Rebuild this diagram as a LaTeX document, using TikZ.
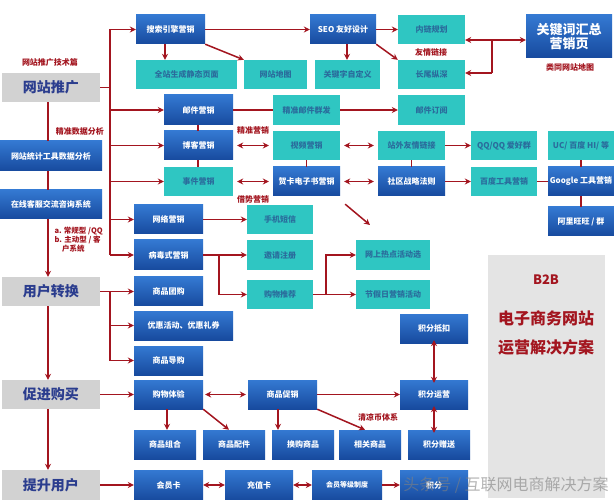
\documentclass[tikz,border=0pt]{standalone}
\usepackage{fontspec}
\setmainfont{Noto Sans CJK SC}
\usetikzlibrary{arrows.meta,calc}
\definecolor{bdark}{HTML}{174A9E}
\definecolor{blite}{HTML}{3479D2}
\definecolor{tl}{HTML}{2FC6C2}
\definecolor{tltext}{HTML}{2A6C9C}
\definecolor{rd}{HTML}{A3151F}
\definecolor{gr}{HTML}{D2D2D2}
\definecolor{grtext}{HTML}{2B3D8E}
\tikzset{
 base/.style={inner sep=0pt,align=center,font=\fontsize{8}{9.5}\selectfont\bfseries},
 bbox/.style={base,top color=blite,bottom color=bdark,text=white},
 tbox/.style={base,fill=tl,text=tltext},
 gbox/.style={base,fill=gr,text=grtext,font=\fontsize{14}{16}\selectfont\bfseries},
 lab/.style={text=rd,font=\fontsize{8}{9.5}\selectfont\bfseries},
 ar/.style={draw=rd,line width=1.5pt,-{Stealth[length=6pt,width=6pt]}},
 dar/.style={draw=rd,line width=1.5pt,{Stealth[length=6pt,width=6pt]}-{Stealth[length=6pt,width=6pt]}},
 ln/.style={draw=rd,line width=1.5pt},
}
\newcommand\bx[7]{\node[#6,minimum width={(#4)-(#2)},minimum height={(#5)-(#3)}] (#1) at ({((#2)+(#4))/2},{((#3)+(#5))/2}) {#7};}
\begin{document}
\begin{tikzpicture}[x=1pt,y=-1pt]
\useasboundingbox (0,0) rectangle (614,500);
\fill[white] (0,0) rectangle (614,500);
% panel
\node[fill=gr!60,minimum width=117,minimum height=243,inner sep=0pt] (panel) at (546.5,376.5) {};
\node[text=rd,font=\fontsize{13}{15}\selectfont\bfseries] (pb) at (546,280) {B2B};
\node[text=rd,font=\fontsize{16}{18}\selectfont\bfseries] (pt1) at (546,318) {电子商务网站};
\node[text=rd,font=\fontsize{16}{18}\selectfont\bfseries] (pt2) at (546,347) {运营解决方案};
% left column
\bx{tg}{2}{73}{100}{102}{gbox}{网站推广}
\bx{zh}{2}{277}{100}{306}{gbox}{用户转换}
\bx{cj}{2}{380}{100}{409}{gbox}{促进购买}
\bx{ts}{2}{470}{100}{500}{gbox}{提升用户}
\bx{tj}{0}{141}{102}{171}{bbox}{网站统计工具数据分析}
\bx{kf}{0}{190}{102}{219}{bbox}{在线客服交流咨询系统}
\node[lab] (l1) at (50,62) {网站推广技术篇};
\node[lab] (l2) at (80,131) {精准数据分析};
\node[lab,align=left,anchor=north west,font=\fontsize{7.5}{9}\selectfont\bfseries] (l3) at (51,224) {a. 常规型 /QQ\\b. 主动型 / 客\\\hspace*{1em}户系统};
% top group
\bx{ss}{136}{15}{205}{44}{bbox}{搜索引擎营销}
\bx{qz}{136}{60}{237}{89}{tbox}{全站生成静态页面}
\bx{dt}{244}{60}{307}{89}{tbox}{网站地图}
\bx{seo}{310}{15}{376}{44}{bbox}{SEO 友好设计}
\bx{gj}{315}{60}{380}{89}{tbox}{关键字自定义}
\bx{nl}{398}{15}{465}{44}{tbox}{内链规划}
\bx{cw}{398}{60}{465}{89}{tbox}{长尾纵深}
\bx{hz}{526}{15}{612}{58}{bbox,font=\fontsize{13}{14}\selectfont\bfseries}{关键词汇总\\营销页}
\node[lab] (l4) at (431,52) {友情链接};
\node[lab] (l5) at (570,67) {类同网站地图};
% mail row
\bx{yj}{164}{95}{233}{125}{bbox}{邮件营销}
\bx{jz}{273}{95}{340}{125}{tbox}{精准邮件群发}
\bx{dy}{398}{95}{465}{125}{tbox}{邮件订阅}
\node[lab] (l6) at (253,130) {精准营销};
\bx{bk}{164}{131}{233}{160}{bbox}{博客营销}
\bx{sp}{273}{131}{340}{160}{tbox}{视频营销}
\bx{zw}{378}{131}{445}{160}{tbox}{站外友情链接}
\bx{qq}{471}{131}{537}{160}{tbox}{QQ/QQ 爱好群}
\bx{uc}{548}{131}{614}{160}{tbox}{UC/ 百度 HI/ 等}
\bx{sj}{164}{167}{233}{196}{tbox}{事件营销}
\bx{hk}{273}{167}{340}{196}{bbox}{贺卡电子书营销}
\bx{sq}{378}{167}{445}{196}{bbox}{社区战略法则}
\bx{bd}{471}{167}{537}{196}{tbox}{百度工具营销}
\bx{gg}{548}{167}{614}{196}{bbox}{Google 工具营销}
\bx{al}{548}{207}{614}{236}{bbox}{阿里旺旺 / 群}
\node[lab] (l7) at (253,199) {借势营销};
\bx{wl}{134}{205}{203}{234}{bbox}{网络营销}
\bx{dx}{247}{205}{313}{234}{tbox}{手机短信}
\bx{bd2}{134}{240}{203}{270}{bbox}{病毒式营销}
\bx{yq}{247}{240}{313}{270}{tbox}{邀请注册}
\bx{tj2}{247}{280}{313}{309}{tbox}{购物推荐}
\bx{rd1}{356}{240}{430}{270}{tbox}{网上热点活动选}
\bx{jr}{356}{280}{430}{309}{tbox}{节假日营销活动}
% conversion
\bx{tg2}{134}{277}{203}{306}{bbox}{商品团购}
\bx{yh}{134}{311}{233}{340}{bbox}{优惠活动、优惠礼券}
\bx{dg}{134}{346}{203}{375}{bbox}{商品导购}
\bx{dk}{400}{314}{468}{343}{bbox}{积分抵扣}
\bx{yy}{400}{380}{468}{409}{bbox}{积分运营}
\node[lab] (l8) at (378,417) {清凉币体系};
\bx{ty}{134}{380}{203}{409}{bbox}{购物体验}
\bx{cx}{248}{380}{317}{409}{bbox}{商品促销}
\bx{zhp}{134}{430}{196}{459}{bbox}{商品组合}
\bx{pj}{203}{430}{265}{459}{bbox}{商品配件}
\bx{hg}{272}{430}{334}{459}{bbox}{换购商品}
\bx{xg}{339}{430}{401}{459}{bbox}{相关商品}
\bx{zs}{408}{430}{470}{459}{bbox}{积分赠送}
\bx{hyk}{134}{470}{203}{500}{bbox}{会员卡}
\bx{cz}{225}{470}{293}{500}{bbox}{充值卡}
\bx{dj}{312}{470}{382}{500}{bbox,font=\fontsize{7}{8}\selectfont\bfseries}{会员等级制度}
\bx{jf}{400}{470}{468}{500}{bbox}{积分}
% left spine
\draw[ln] (tg.south -| 48,0) -- (tj.north -| 48,0);
\draw[ln] (tj.south -| 48,0) -- (kf.north -| 48,0);
\draw[ar] (kf.south -| 48,0) -- (zh.north -| 48,0);
\draw[ar] (zh.south -| 48,0) -- (cj.north -| 48,0);
\draw[ar] (cj.south -| 48,0) -- (ts.north -| 48,0);
\draw[ln] (tg.east) -- (110,87.5);
\draw[ln] (110,29.5) -- (110,255);
\draw[ar] (110,29.5) -- (ss.west);
\draw[ar] (110,110) -- (yj.west);
\draw[ar] (110,145.5) -- (bk.west);
\draw[ar] (110,181.5) -- (sj.west);
\draw[ar] (110,219.5) -- (wl.west);
\draw[ar] (110,255) -- (bd2.west);
\draw[ln] (zh.east) -- (110,291.5);
\draw[ln] (110,291.5) -- (110,360.5);
\draw[ar] (110,291.5) -- (tg2.west);
\draw[ar] (110,325.5) -- (yh.west);
\draw[ar] (110,360.5) -- (dg.west);
\draw[ar] (cj.east) -- (ty.west);
\draw[ar] (ts.east) -- (hyk.west);
% top
\draw[ar] (ss.east) -- (seo.west);
\draw[ar] (ss.south -| 165,0) -- (qz.north -| 165,0);
\draw[ar] (ss.south east) -- (dt.north west);
\draw[ar] (seo.east) -- (nl.west);
\draw[ar] (seo.south -| 347,0) -- (gj.north -| 347,0);
\draw[ar] (seo.south east) -- (cw.north west);
\coordinate (j1) at (492,40);
\coordinate (j2) at (492,73);
\draw[ar] (j1) -- (nl.east |- j1);
\draw[ln] (j1) -- (j2);
\draw[ar] (j2) -- (cw.east |- j2);
\draw[ar] (j1) -- (hz.west |- j1);
% mail group
\draw[ln] (yj.east) -- (jz.west);
\draw[ar] (jz.east) -- (dy.west);
\draw[ln] (yj.south -| 198,0) -- (bk.north -| 198,0);
\draw[ln] (bk.south -| 198,0) -- (sj.north -| 198,0);
\draw[dar] ([xshift=4pt]bk.east) -- ([xshift=-4pt]sp.west);
\draw[dar] ([xshift=4pt]sp.east) -- ([xshift=-4pt]zw.west);
\draw[ar] (zw.east) -- (qq.west);
\draw[ln] (zw.south) -- (sq.north);
\draw[ln] (sp.south) -- (hk.north);
\draw[dar] ([xshift=4pt]sj.east) -- ([xshift=-4pt]hk.west);
\draw[dar] ([xshift=4pt]hk.east) -- ([xshift=-4pt]sq.west);
\draw[ar] (sq.east) -- (bd.west);
\draw[ln] (bd.east) -- (gg.west);
\draw[ln] (uc.south) -- (gg.north);
\draw[ln] (gg.south) -- (al.north);
\coordinate (fe) at (370,225);
\draw[ar] ([shift={(5pt,-8pt)}]hk.south east) -- (fe);
\draw[ar] (wl.east) -- (dx.west);
\draw[ar] (bd2.east) -- (yq.west);
\draw[ar] (219,255) |- (tj2.west);
\coordinate (sp2) at (326,294.5);
\draw[ln] (tj2.east) -- (sp2);
\draw[ar] (sp2) |- (rd1.west);
\draw[ar] (sp2) -- (jr.west);
% purchase
\draw[dar] ([xshift=2pt]ty.east) -- ([xshift=-2pt]cx.west);
\draw[ar] (ty.south -| 167,0) -- (zhp.north -| 167,0);
\draw[ar] (ty.south east) -- ([xshift=-5pt]pj.north);
\draw[ar] (cx.south -| 278,0) -- (hg.north -| 278,0);
\draw[ar] (cx.south east) -- ([xshift=-5pt]xg.north);
\draw[ar] (cx.east) -- (yy.west);
\draw[dar] ([yshift=3pt]dk.south) -- ([yshift=-3pt]yy.north);
\draw[dar] ([yshift=3pt]yy.south) -- ([yshift=-3pt]yy.south |- zs.north);
\draw[dar] (hyk.east) -- (cz.west);
\draw[dar] (cz.east) -- (dj.west);
\draw[ar] (dj.east) -- (jf.west);
% watermark
\node[text=gray,font=\fontsize{16}{18}\selectfont,opacity=0.6] (wm) at (506,485) {头条号 / 互联网电商解决方案};
\end{tikzpicture}
\end{document}
